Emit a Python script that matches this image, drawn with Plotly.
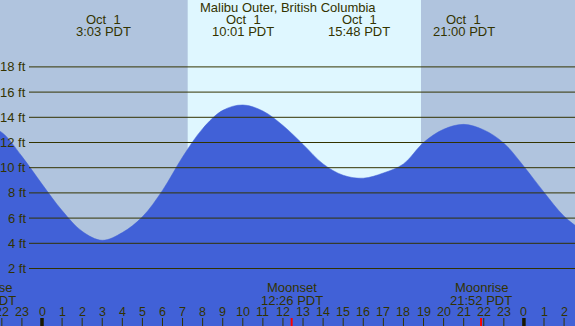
import plotly.graph_objects as go

# ---- data ----
hours = list(range(-3, 28))  # hours relative to Oct 1 00:00 PDT
heights = [13.5, 12.8, 10.9, 8.7, 6.6, 4.95, 4.24, 4.85, 6.1, 8.2, 10.85,
           13.1, 14.55, 14.98, 14.5, 13.35, 11.85, 10.3, 9.4, 9.17, 9.58,
           10.3, 12.0, 13.05, 13.44, 13.0, 11.95, 10.1, 8.05, 6.15, 4.9]

title = "Malibu Outer, British Columbia"
event_hours = [3.05, 10.017, 15.8, 21.0]
event_dates = ["Oct  1", "Oct  1", "Oct  1", "Oct  1"]
event_times = ["3:03 PDT", "10:01 PDT", "15:48 PDT", "21:00 PDT"]

moon_hours = [12.433, 21.867]
moon_names = ["Moonset", "Moonrise"]
moon_times = ["12:26 PDT", "21:52 PDT"]
prev_moon_name = "Moonrise"
prev_moon_time = "21:10 PDT"

sunrise_h = 7.256
sunset_h = 18.874

ytick_vals = [2, 4, 6, 8, 10, 12, 14, 16, 18]
ytick_text = ["2 ft", "4 ft", "6 ft", "8 ft", "10 ft", "12 ft", "14 ft", "16 ft", "18 ft"]

hour_ticks = list(range(-2, 27))
hour_labels = [str(h % 24) for h in hour_ticks]
midnights = [0, 24]

# ---- styling ----
W, H = 575, 326
PX_PER_H = 20.08
X0 = 42.0
XMIN = -X0 / PX_PER_H
XMAX = (W - X0) / PX_PER_H
Y0PX = 293.7
PX_PER_FT = 12.6
YMAX = Y0PX / PX_PER_FT
YMIN = -(H - Y0PX) / PX_PER_FT

NIGHT = "#B0C4DE"
DAY = "#DFF7FF"
WATER = "#4161D7"
TXT = "#333300"
FONT = "Liberation Sans, Arial, sans-serif"

fig = go.Figure()
fig.add_trace(go.Scatter(x=hours, y=[YMIN - 3] * len(hours), mode="lines",
                         line=dict(width=0, color=WATER), hoverinfo="skip",
                         showlegend=False))
fig.add_trace(go.Scatter(x=hours, y=heights, mode="lines", line_shape="spline",
                         line=dict(width=0.5, color=WATER), fill="tonexty",
                         fillcolor=WATER, hoverinfo="skip", showlegend=False))

shapes = []
shapes.append(dict(type="rect", xref="x", yref="paper", x0=sunrise_h, x1=sunset_h,
                   y0=0, y1=1, fillcolor=DAY, line=dict(width=0), layer="below"))
for v in ytick_vals:
    shapes.append(dict(type="line", xref="paper", yref="y", x0=29 / W, x1=1,
                       y0=v, y1=v, line=dict(color=TXT, width=1), layer="above"))
tick_y0 = 0
tick_y1 = 8 / H
for h in hour_ticks:
    shapes.append(dict(type="line", xref="x", yref="paper", x0=h, x1=h,
                       y0=tick_y0, y1=tick_y1, line=dict(color=TXT, width=1),
                       layer="above"))
for h in midnights:
    shapes.append(dict(type="line", xref="x", yref="paper", x0=h, x1=h,
                       y0=tick_y0, y1=tick_y1, line=dict(color="#1a1a00", width=3.5),
                       layer="above"))
for h in moon_hours:
    shapes.append(dict(type="line", xref="x", yref="paper", x0=h, x1=h,
                       y0=tick_y0, y1=tick_y1, line=dict(color="#FF0000", width=2),
                       layer="above"))

ann = []
def A(size=13, **kw):
    d = dict(showarrow=False, font=dict(family=FONT, size=size, color=TXT))
    d.update(kw)
    ann.append(d)

A(text=title, xref="paper", yref="paper", x=0.5, y=1 - 7.5 / H,
  xanchor="center", yanchor="middle")
for h, d, t in zip(event_hours, event_dates, event_times):
    A(text=d, xref="x", yref="paper", x=h, y=1 - 19.5 / H, xanchor="center", yanchor="middle")
    A(text=t, xref="x", yref="paper", x=h, y=1 - 32 / H, xanchor="center", yanchor="middle")
for v, t in zip(ytick_vals, ytick_text):
    A(text=t, xref="paper", yref="y", x=27.5 / W, y=v, xanchor="right", yanchor="middle")
for h, t in zip(hour_ticks, hour_labels):
    A(size=12.5, text=t, xref="x", yref="paper", x=h, y=(H - 311.5) / H,
      xanchor="center", yanchor="middle")
for h, n, t in zip(moon_hours, moon_names, moon_times):
    A(text=n, xref="x", yref="paper", x=h, y=(H - 287.5) / H, xanchor="center", yanchor="middle")
    A(text=t, xref="x", yref="paper", x=h, y=(H - 300) / H, xanchor="center", yanchor="middle")
A(text=prev_moon_name, xref="paper", yref="paper", x=-15 / W, y=(H - 287.5) / H,
  xanchor="center", yanchor="middle")
A(text=prev_moon_time, xref="paper", yref="paper", x=-15 / W, y=(H - 300) / H,
  xanchor="center", yanchor="middle")

fig.update_layout(
    width=W, height=H, margin=dict(l=0, r=0, t=0, b=0, pad=0),
    paper_bgcolor=NIGHT, plot_bgcolor=NIGHT,
    xaxis=dict(range=[XMIN, XMAX], visible=False, fixedrange=True),
    yaxis=dict(range=[YMIN, YMAX], visible=False, fixedrange=True),
    shapes=shapes, annotations=ann, hovermode=False, showlegend=False,
)
fig.write_html("out.html", config={"displayModeBar": False, "staticPlot": True},
               post_script="document.body.style.margin='0';document.body.style.overflow='hidden';")
